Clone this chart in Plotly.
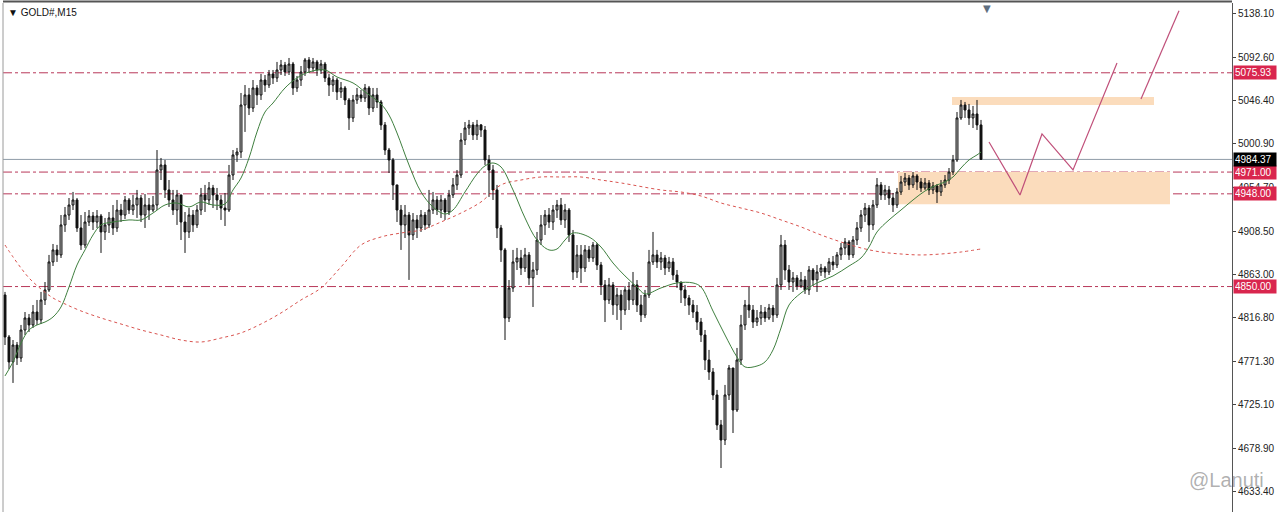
import plotly.graph_objects as go

# ---------------- data (GOLD#, M15) ----------------
first_open = 4841.1

close = [
    4796.7, 4770.3, 4788.2, 4774.5, 4804.1, 4816.8, 4809.4, 4823.1, 4814.7, 4835.8,
    4846.4, 4876.0, 4888.7, 4883.4, 4915.1, 4925.6, 4936.2, 4941.5, 4911.9, 4893.9,
    4918.2, 4924.6, 4918.2, 4924.6, 4907.7, 4915.1, 4922.5, 4911.9, 4930.9, 4925.6,
    4941.5, 4930.9, 4936.2, 4943.6, 4925.6, 4936.2, 4930.9, 4936.2, 4973.2, 4978.5,
    4952.1, 4941.5, 4930.9, 4946.8, 4918.2, 4907.7, 4925.6, 4915.1, 4930.9, 4946.8,
    4941.5, 4954.2, 4946.8, 4941.5, 4933.0, 4930.9, 4967.9, 4989.1, 4992.2, 5041.9,
    5052.5, 5038.7, 5059.9, 5052.5, 5068.3, 5063.0, 5074.7, 5070.5, 5078.9, 5084.2,
    5076.8, 5085.2, 5059.9, 5068.3, 5076.8, 5089.5, 5081.0, 5087.4, 5078.9, 5085.2,
    5070.5, 5063.0, 5068.3, 5055.7, 5059.9, 5047.2, 5028.2, 5047.2, 5052.5, 5049.3,
    5059.9, 5038.7, 5052.5, 5045.1, 5020.8, 4994.3, 4983.8, 4957.4, 4930.9, 4915.1,
    4925.6, 4904.5, 4920.4, 4911.9, 4925.6, 4915.1, 4930.9, 4941.5, 4930.9, 4941.5,
    4928.8, 4946.8, 4957.4, 4967.9, 5004.9, 5017.6, 5020.8, 5010.2, 5020.8, 5015.5,
    4983.8, 4973.2, 4952.1, 4911.9, 4888.7, 4816.8, 4848.5, 4876.0, 4880.2, 4869.6,
    4883.4, 4859.1, 4867.5, 4899.2, 4915.1, 4925.6, 4918.2, 4930.9, 4936.2, 4920.4,
    4930.9, 4904.5, 4865.4, 4883.4, 4869.6, 4888.7, 4880.2, 4893.9, 4872.8, 4851.7,
    4835.8, 4851.7, 4830.5, 4841.1, 4825.2, 4846.4, 4835.8, 4851.7, 4830.5, 4819.9,
    4841.1, 4876.0, 4883.4, 4876.0, 4880.2, 4869.6, 4876.0, 4862.2, 4854.8, 4846.4,
    4837.9, 4830.5, 4823.1, 4812.5, 4798.8, 4772.4, 4759.7, 4735.4, 4703.7, 4687.8,
    4735.4, 4763.9, 4719.5, 4772.4, 4809.4, 4830.5, 4825.2, 4812.5, 4816.8, 4823.1,
    4816.8, 4827.3, 4819.9, 4851.7, 4893.9, 4867.5, 4854.8, 4859.1, 4850.6, 4857.0,
    4846.4, 4867.5, 4857.0, 4865.4, 4869.6, 4865.4, 4876.0, 4872.8, 4883.4, 4890.8,
    4897.1, 4883.4, 4899.2, 4911.9, 4925.6, 4933.0, 4915.1, 4936.2, 4957.4, 4946.8,
    4952.1, 4943.6, 4936.2, 4949.9, 4960.5, 4964.7, 4957.4, 4966.9, 4960.5, 4954.2,
    4959.5, 4952.1, 4956.3, 4949.9, 4957.4, 4962.6, 4971.1, 4983.8, 5028.2, 5041.9,
    5036.6, 5028.2, 5032.4, 5020.8, 4984.37,
]

high = [
    4844.3, 4798.8, 4793.5, 4791.4, 4809.4, 4823.1, 4821.0, 4830.5, 4835.8, 4844.3,
    4854.8, 4883.4, 4895.0, 4894.0, 4925.6, 4934.1, 4943.6, 4950.0, 4943.6, 4925.6,
    4928.8, 4930.9, 4928.8, 4930.9, 4926.7, 4922.5, 4928.8, 4936.2, 4941.5, 4937.3,
    4945.7, 4943.6, 4946.8, 4952.1, 4946.8, 4947.8, 4943.6, 4945.7, 4994.3, 4985.9,
    4983.8, 4962.6, 4952.1, 4952.1, 4946.8, 4928.8, 4933.0, 4930.9, 4936.2, 4954.2,
    4957.4, 4960.5, 4957.4, 4954.2, 4946.8, 4948.9, 4978.5, 4994.3, 4996.5, 5054.6,
    5063.0, 5059.9, 5068.3, 5063.0, 5074.7, 5073.6, 5078.9, 5078.9, 5087.4, 5089.5,
    5087.4, 5091.6, 5087.4, 5072.6, 5083.1, 5091.6, 5092.6, 5091.6, 5089.5, 5089.5,
    5087.4, 5074.7, 5072.6, 5070.5, 5066.2, 5062.0, 5049.3, 5052.5, 5059.9, 5057.8,
    5064.1, 5062.0, 5059.9, 5059.9, 5047.2, 5023.9, 4996.5, 4985.9, 4957.4, 4936.2,
    4936.2, 4928.8, 4927.7, 4925.6, 4930.9, 4928.8, 4952.1, 4950.0, 4945.7, 4946.8,
    4943.6, 4952.1, 4964.7, 4973.2, 5012.3, 5023.9, 5026.1, 5023.9, 5026.1, 5021.8,
    5019.7, 4989.1, 4978.5, 4957.4, 4915.1, 4890.8, 4856.9, 4888.7, 4890.8, 4888.7,
    4890.8, 4886.5, 4876.0, 4907.7, 4925.6, 4930.9, 4933.0, 4936.2, 4941.5, 4943.6,
    4937.3, 4933.0, 4909.8, 4893.9, 4893.9, 4893.9, 4892.9, 4897.1, 4896.0, 4876.0,
    4856.9, 4859.1, 4854.8, 4848.5, 4846.4, 4850.6, 4854.8, 4865.4, 4856.9, 4841.1,
    4846.4, 4888.7, 4907.7, 4888.7, 4886.5, 4883.4, 4881.3, 4880.2, 4867.5, 4854.8,
    4851.7, 4841.1, 4835.8, 4830.5, 4816.8, 4804.1, 4783.0, 4763.9, 4740.7, 4709.0,
    4746.0, 4767.1, 4763.9, 4785.1, 4820.0, 4835.8, 4849.5, 4830.5, 4825.2, 4830.5,
    4828.4, 4831.6, 4830.5, 4859.1, 4904.5, 4899.2, 4872.8, 4865.4, 4862.2, 4865.4,
    4861.2, 4871.7, 4869.6, 4872.8, 4873.9, 4871.7, 4880.2, 4882.3, 4886.5, 4896.0,
    4901.3, 4899.2, 4903.4, 4918.2, 4930.9, 4938.3, 4936.2, 4941.5, 4964.7, 4960.5,
    4957.4, 4956.3, 4948.9, 4954.2, 4966.9, 4970.0, 4967.9, 4971.1, 4968.9, 4964.7,
    4964.7, 4962.6, 4960.5, 4958.4, 4962.6, 4967.9, 4975.3, 4989.1, 5034.5, 5047.2,
    5045.1, 5043.0, 5040.9, 5047.2, 5026.1,
]

low = [
    4788.2, 4762.8, 4748.1, 4767.1, 4770.3, 4798.8, 4802.0, 4806.2, 4809.4, 4810.4,
    4830.5, 4844.3, 4871.7, 4876.0, 4880.2, 4907.7, 4920.4, 4930.9, 4907.7, 4888.7,
    4890.8, 4914.0, 4909.8, 4911.9, 4885.5, 4899.2, 4906.6, 4904.5, 4907.7, 4918.2,
    4921.4, 4926.7, 4925.6, 4922.5, 4918.2, 4911.9, 4920.4, 4928.8, 4930.9, 4962.6,
    4943.6, 4934.1, 4925.6, 4915.1, 4899.2, 4885.5, 4901.3, 4907.7, 4911.9, 4925.6,
    4928.8, 4936.2, 4933.0, 4930.9, 4920.4, 4914.0, 4928.8, 4962.6, 4981.7, 4985.9,
    5013.4, 5031.3, 5034.5, 5041.9, 5047.2, 5055.7, 5059.9, 5064.1, 5066.2, 5073.6,
    5072.6, 5073.6, 5052.5, 5055.7, 5062.0, 5072.6, 5075.7, 5076.8, 5072.6, 5074.7,
    5066.2, 5051.4, 5055.7, 5047.2, 5049.3, 5041.9, 5015.5, 5023.9, 5043.0, 5045.1,
    5045.1, 5031.3, 5034.5, 5038.7, 5015.5, 4989.1, 4970.0, 4941.5, 4918.2, 4888.7,
    4901.3, 4857.0, 4899.2, 4901.3, 4907.7, 4909.8, 4911.9, 4926.7, 4925.6, 4922.5,
    4920.4, 4925.6, 4943.6, 4952.1, 4964.7, 4999.6, 5010.2, 5004.9, 5004.9, 5008.1,
    4978.5, 4944.7, 4941.5, 4901.3, 4876.0, 4793.5, 4812.5, 4844.3, 4867.5, 4862.2,
    4865.4, 4851.7, 4828.4, 4862.2, 4893.9, 4904.5, 4911.9, 4909.8, 4922.5, 4915.1,
    4911.9, 4897.1, 4857.0, 4859.1, 4853.8, 4865.4, 4876.0, 4876.0, 4867.5, 4841.1,
    4812.5, 4831.6, 4820.0, 4814.7, 4804.1, 4820.0, 4825.2, 4830.5, 4823.1, 4812.5,
    4816.8, 4837.9, 4872.8, 4869.6, 4867.5, 4862.2, 4865.4, 4857.0, 4848.5, 4832.6,
    4829.5, 4820.0, 4816.8, 4804.1, 4791.4, 4761.8, 4751.3, 4730.1, 4698.4, 4658.2,
    4682.5, 4730.1, 4695.2, 4717.4, 4767.1, 4804.1, 4816.8, 4806.2, 4808.3, 4809.4,
    4812.5, 4814.7, 4812.5, 4816.8, 4846.4, 4857.0, 4846.4, 4844.3, 4846.4, 4848.5,
    4842.2, 4841.1, 4850.6, 4844.3, 4861.2, 4859.1, 4862.2, 4867.5, 4869.6, 4878.1,
    4883.4, 4878.1, 4880.2, 4893.9, 4907.7, 4918.2, 4897.1, 4909.8, 4933.0, 4941.5,
    4941.5, 4936.2, 4928.8, 4933.0, 4946.8, 4956.3, 4952.1, 4954.2, 4952.1, 4950.0,
    4952.1, 4946.8, 4947.8, 4938.3, 4945.7, 4954.2, 4958.4, 4967.9, 4981.7, 5026.1,
    5028.2, 5020.8, 5017.6, 5015.5, 4983.9,
]

# fast moving average (green), sampled at bar indices
fast_ma_bar = [0, 2, 4, 6, 8, 10, 12, 14, 16, 18, 20, 22, 24, 27, 31, 34, 37, 40, 43, 46,
               49, 52, 55, 57, 59, 61, 63, 65, 67, 70, 73, 76, 80, 83, 87, 90, 94, 96, 98,
               101, 104, 107, 110, 112, 115, 118, 120, 122, 124, 127, 130, 133, 136, 138,
               140, 142, 146, 149, 152, 155, 158, 160, 164, 168, 172, 174, 177, 180, 183,
               185, 188, 190, 192, 194, 196, 199, 203, 207, 211, 214, 216, 218, 221, 224,
               227, 230, 233, 235, 237, 239, 241, 243, 244]
fast_ma_val = [4755.5, 4770.3, 4790.3, 4804.1, 4809.4, 4812.5, 4817.8, 4828.4, 4849.5, 4872.8,
               4888.7, 4904.5, 4915.1, 4918.2, 4920.4, 4920.4, 4927.7, 4936.2, 4938.3, 4934.1,
               4939.4, 4936.2, 4937.3, 4952.1, 4964.7, 4985.9, 5013.4, 5034.5, 5044.0, 5059.9,
               5070.5, 5076.8, 5078.9, 5071.5, 5065.2, 5055.7, 5043.0, 5031.3, 5012.3,
               4978.5, 4950.0, 4934.1, 4926.7, 4930.9, 4950.0, 4969.0, 4977.5, 4980.6, 4976.4,
               4952.1, 4922.5, 4899.2, 4888.7, 4889.7, 4899.2, 4906.6, 4902.4, 4891.8, 4874.9,
               4861.2, 4849.5, 4842.2, 4848.5, 4853.8, 4853.8, 4849.5, 4824.1, 4798.8, 4775.5,
               4765.0, 4766.0, 4770.3, 4783.0, 4806.2, 4830.5, 4843.2, 4853.8, 4861.2, 4871.7,
               4880.2, 4891.8, 4907.7, 4920.4, 4930.9, 4941.5, 4951.0, 4957.4, 4960.5, 4965.8,
               4975.3, 4983.8, 4989.1, 4992.2]

# slow moving average (red dotted)
slow_ma_bar = [0, 2, 4, 6, 9, 12, 15, 19, 24, 29, 34, 39, 44, 49, 54, 59, 64, 69, 74, 79,
               84, 89, 94, 99, 104, 109, 114, 119, 124, 129, 134, 139, 144, 149, 154, 164,
               169, 174, 179, 184, 189, 194, 199, 204, 209, 214, 219, 224, 229, 234, 239, 244]
slow_ma_val = [4893.9, 4881.3, 4869.6, 4859.1, 4847.4, 4837.9, 4831.6, 4824.2, 4816.8, 4810.4,
               4804.1, 4798.8, 4793.5, 4791.4, 4795.6, 4801.0, 4810.4, 4822.1, 4835.8, 4848.5,
               4870.7, 4893.9, 4902.4, 4906.6, 4909.8, 4918.2, 4927.7, 4939.4, 4957.4, 4962.6,
               4965.8, 4965.8, 4965.8, 4962.6, 4959.5, 4952.1, 4949.9, 4945.7, 4938.3, 4933.0,
               4927.7, 4920.4, 4913.0, 4904.5, 4897.1, 4890.8, 4886.5, 4884.4, 4883.4, 4884.4,
               4886.5, 4889.7]

# levels
level_prices = [5075.93, 4971.00, 4948.00, 4850.00]
bid_price = 4984.37

# forecast path drawn by the author (bar index, price)
path1_bar = [246.0, 253.75, 259.25, 267.0, 278.0]
path1_val = [5002.8, 4946.8, 5011.3, 4973.2, 5086.3]
path2_bar = [284.0, 293.5]
path2_val = [5048.2, 5141.4]

# zones (bar from, bar to, price low, price high)
zones = [(236.75, 287.25, 5041.9, 5050.4), (223.25, 291.25, 4937.1, 4971.1)]

# price axis
tick_vals = [5138.10, 5092.60, 5046.40, 5000.90, 4954.70, 4908.50,
             4863.00, 4816.80, 4771.30, 4725.10, 4678.90, 4633.40]

# ---------------- figure ----------------
bars = list(range(len(close)))
opens = [first_open] + close[:-1]
hi = [max(h, o, c) for h, o, c in zip(high, opens, close)]
lo = [min(l, o, c) for l, o, c in zip(low, opens, close)]

fig = go.Figure()

LEVEL_COL = "#b8385a"

for x0, x1, p0, p1 in zones:
    fig.add_shape(type="rect", xref="x", yref="y", x0=x0, x1=x1, y0=p0, y1=p1,
                  fillcolor="#fbdcbc", line=dict(width=0), layer="below")

for p in level_prices:
    fig.add_shape(type="line", xref="paper", yref="y", x0=0, x1=1, y0=p, y1=p,
                  line=dict(color=LEVEL_COL, width=1, dash="dashdot"), layer="below")
fig.add_shape(type="line", xref="paper", yref="y", x0=0, x1=1, y0=bid_price, y1=bid_price,
              line=dict(color="#8e9ca8", width=1), layer="below")

fig.add_trace(go.Scatter(x=slow_ma_bar, y=slow_ma_val, mode="lines",
                         line=dict(color="#d9534f", width=1, dash="dot", shape="spline"),
                         hoverinfo="skip", showlegend=False))

fig.add_trace(go.Candlestick(
    x=bars, open=opens, high=hi, low=lo, close=close,
    increasing=dict(line=dict(color="#111111", width=1), fillcolor="#bdbdbd"),
    decreasing=dict(line=dict(color="#111111", width=1), fillcolor="#111111"),
    whiskerwidth=0, hoverinfo="skip", showlegend=False))

fig.add_trace(go.Scatter(x=fast_ma_bar, y=fast_ma_val, mode="lines",
                         line=dict(color="#3f7f3f", width=1, shape="spline"),
                         hoverinfo="skip", showlegend=False))

for bx, by in ((path1_bar, path1_val), (path2_bar, path2_val)):
    fig.add_trace(go.Scatter(x=bx, y=by, mode="lines",
                             line=dict(color="#c0507a", width=1.2),
                             hoverinfo="skip", showlegend=False, cliponaxis=False))

# frame details
fig.add_shape(type="line", xref="paper", yref="paper", x0=0, x1=1, y0=1.003, y1=1.003,
              line=dict(color="#555555", width=2))
fig.add_shape(type="line", xref="paper", yref="paper", x0=0, x1=0, y0=0, y1=1,
              line=dict(color="#9a9a9a", width=1))

annotations = []
for p in level_prices:
    annotations.append(dict(xref="paper", yref="y", x=1, y=p, xanchor="left", yanchor="middle",
                            xshift=1, text=f"{p:.2f}", showarrow=False, bgcolor="#d9264e",
                            font=dict(color="white", size=10, family="Liberation Sans"),
                            borderpad=1, width=40, align="left"))
annotations.append(dict(xref="paper", yref="y", x=1, y=bid_price, xanchor="left", yanchor="middle",
                        xshift=1, text=f"{bid_price:.2f}", showarrow=False, bgcolor="#000000",
                        font=dict(color="white", size=10, family="Liberation Sans"),
                        borderpad=1, width=40, align="left"))
annotations.append(dict(xref="paper", yref="paper", x=0, y=1, xanchor="left", yanchor="top",
                        xshift=3, yshift=-2, text="▼ GOLD#,M15", showarrow=False,
                        font=dict(color="#111111", size=10, family="Liberation Sans")))
annotations.append(dict(xref="x", yref="paper", x=245.5, y=1, xanchor="center", yanchor="top",
                        yshift=2, text="▼", showarrow=False,
                        font=dict(color="#5f6f7f", size=10, family="DejaVu Sans")))
annotations.append(dict(xref="paper", yref="y", x=1, y=4645.5, xanchor="right", yanchor="middle",
                        xshift=34, text="@Lanuti", showarrow=False,
                        font=dict(color="rgba(110,110,110,0.55)", size=20, family="Liberation Sans")))

fig.update_layout(
    width=1280, height=512,
    margin=dict(l=3, r=48, t=3, b=0),
    paper_bgcolor="white", plot_bgcolor="white",
    showlegend=False,
    annotations=annotations,
    xaxis=dict(range=[-0.5, 306.75], visible=False, rangeslider=dict(visible=False),
               showgrid=False, zeroline=False),
    yaxis=dict(range=[4611.7, 5149.7], side="right", tickvals=tick_vals,
               ticktext=[f"{v:.2f}" for v in tick_vals], ticks="outside", ticklen=3,
               tickcolor="#444444", showline=True, linecolor="#555555", linewidth=1,
               showgrid=False, zeroline=False,
               tickfont=dict(size=10, color="#222222", family="Liberation Sans")),
)

fig.write_html("out.html", config={"displayModeBar": False},
               post_script="document.body.style.margin='0px';document.body.style.overflow='hidden';")
